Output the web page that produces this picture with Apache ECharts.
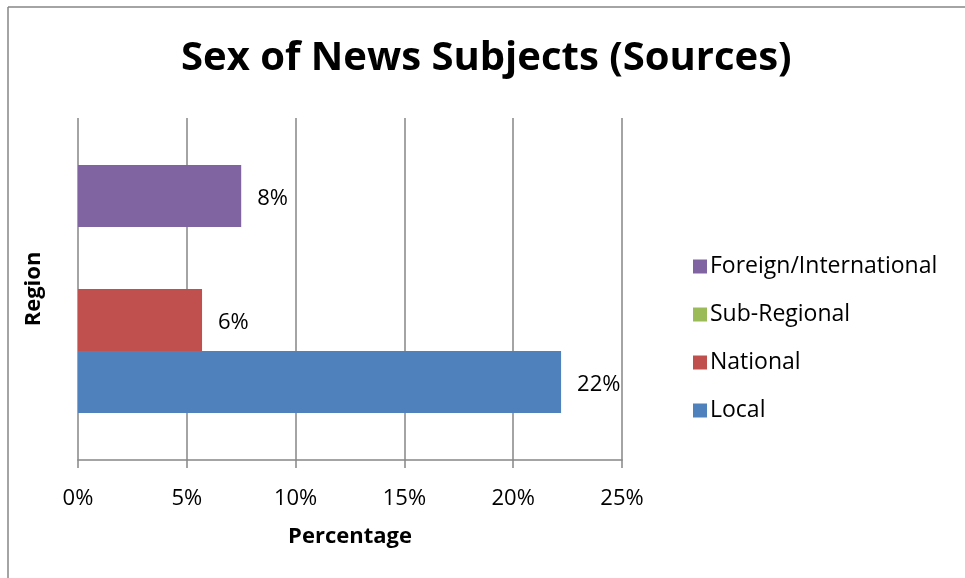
<!DOCTYPE html>
<html>
<head>
<meta charset="utf-8">
<script src="https://cdn.jsdelivr.net/npm/echarts@6/dist/echarts.min.js"></script>
<style>
  html, body { margin: 0; padding: 0; background: #fff; }
  #chart { width: 965px; height: 578px; }
</style>
</head>
<body>
<div id="chart"></div>
<script>
// Share of news sources by region (percent)
const categories = [''];
const seriesNames = ['Foreign/International', 'Sub-Regional', 'National', 'Local'];
const foreignValues = [7.5];
const subRegionalValues = [0];
const nationalValues = [5.7];
const localValues = [22.2];
const xTicks = [0, 5, 10, 15, 20, 25];

const FONT = "'Open Sans', sans-serif";
const colors = ['#8064A2', '#9BBB59', '#C0504D', '#4F81BD'];
const valueSets = [foreignValues, subRegionalValues, nationalValues, localValues];

const chart = echarts.init(document.getElementById('chart'), null, { renderer: 'canvas' });

// In a horizontal bar chart the first series sits at the top of the band
const series = seriesNames.map((name, i) => ({
  name: name,
  type: 'bar',
  data: valueSets[i],
  barGap: '0%',
  barCategoryGap: '27.5%',
  itemStyle: { color: colors[i] },
  label: {
    show: true,
    position: 'right',
    distance: 16,
    offset: [0, 3],
    fontFamily: FONT,
    fontSize: 22,
    color: '#000',
    formatter: p => (p.value ? Math.round(p.value) + '%' : '')
  }
}));

chart.setOption({
  animation: false,
  backgroundColor: '#fff',
  title: {
    text: 'Sex of News Subjects (Sources)',
    left: 176,
    top: 34,
    textStyle: { fontFamily: FONT, fontWeight: 'bold', fontSize: 40, color: '#000' }
  },
  legend: {
    orient: 'vertical',
    left: 688,
    top: 250,
    itemWidth: 14,
    itemHeight: 14,
    itemGap: 25,
    icon: 'rect',
    data: seriesNames,
    textStyle: { fontFamily: FONT, fontSize: 23, color: '#000', padding: [0, 0, 0, -2] }
  },
  grid: { left: 78, right: 343, top: 118, bottom: 118, containLabel: false },
  xAxis: {
    type: 'value',
    min: xTicks[0],
    max: xTicks[xTicks.length - 1],
    interval: xTicks[1] - xTicks[0],
    name: 'Percentage',
    nameLocation: 'middle',
    nameGap: 66,
    nameTextStyle: { fontFamily: FONT, fontWeight: 'bold', fontSize: 22, color: '#000' },
    axisLine: { show: true, lineStyle: { color: '#868686', width: 1.5 } },
    axisTick: { show: true, length: 8, lineStyle: { color: '#868686', width: 1.5 } },
    splitLine: { show: true, lineStyle: { color: '#868686', width: 1.5 } },
    axisLabel: { margin: 28, fontFamily: FONT, fontSize: 22, color: '#000', formatter: '{value}%' }
  },
  yAxis: {
    type: 'category',
    data: categories,
    name: 'Region',
    nameLocation: 'middle',
    nameRotate: 90,
    nameGap: 33,
    nameTextStyle: { fontFamily: FONT, fontWeight: 'bold', fontSize: 22, color: '#000' },
    axisLine: { show: false },
    axisTick: { show: false },
    axisLabel: { show: false },
    splitLine: { show: false }
  },
  graphic: [
    { type: 'line', shape: { x1: 8, y1: 7, x2: 965, y2: 7 }, style: { stroke: '#868686', lineWidth: 1.5 } },
    { type: 'line', shape: { x1: 8, y1: 7, x2: 8, y2: 578 }, style: { stroke: '#868686', lineWidth: 1.5 } }
  ],
  series: series
});
</script>
</body>
</html>
